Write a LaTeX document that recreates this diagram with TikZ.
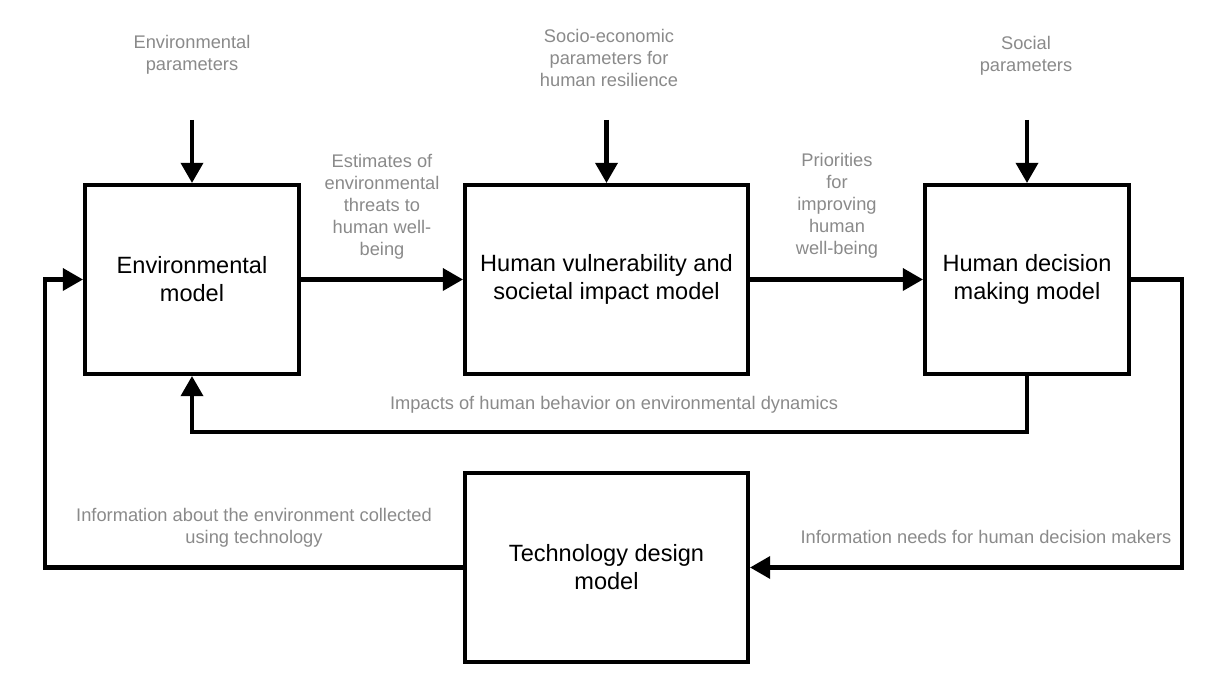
\documentclass[tikz,border=0pt]{standalone}
\usepackage{fontspec}
\setmainfont{Liberation Sans}
\usepackage{tikz}
\usetikzlibrary{arrows.meta, positioning}
\definecolor{lblgray}{HTML}{8A8A8A}

\begin{document}
\begin{tikzpicture}[
  box/.style={draw, line width=2.3pt, minimum height=3.78cm, align=center, font=\fontsize{13.4}{15.9}\selectfont, inner sep=4pt},
  lbl/.style={align=center, text=lblgray, font=\fontsize{10.4}{12.5}\selectfont, inner sep=1pt},
  arr/.style={-{Triangle[length=11.5pt, width=12.5pt]}, line width=2.3pt}
]
\useasboundingbox (0,0) rectangle (24.48,13.48);
\node[box, minimum width=4.28cm] (env)      at (3.84,7.89)  {Environmental\\model};
\node[box, minimum width=5.66cm] (vuln)     at (12.13,7.89) {Human vulnerability and\\societal impact model};
\node[box, minimum width=4.08cm] (decision) at (20.54,7.89) {Human decision\\making model};
\node[box, minimum width=5.66cm] (tech)     at (12.13,2.13) {Technology design\\model};
\node[lbl] (envpar)   at (3.84,12.38)  {Environmental\\parameters};
\node[lbl] (sociopar) at (12.18,12.32) {Socio-economic\\parameters for\\human resilience};
\node[lbl] (socpar)   at (20.52,12.36) {Social\\parameters};
\node[lbl] (threats)  at (7.64,9.34)   {Estimates of\\environmental\\threats to\\human well-\\being};
\node[lbl] (prio)     at (16.74,9.36)  {Priorities\\for\\improving\\human\\well-being};
\node[lbl] (impacts)  at (12.28,5.38)  {Impacts of human behavior on environmental dynamics};
\node[lbl] (infoenv)  at (5.08,2.92)   {Information about the environment collected\\using technology};
\node[lbl] (infoneed) at (19.72,2.74)  {Information needs for human decision makers};
\coordinate (envin)   at (3.84,11.08);
\coordinate (socioin) at (12.13,11.08);
\coordinate (socin)   at (20.54,11.08);
\coordinate (fb)      at (20.54,4.84);
\coordinate (rgt)     at (23.64,7.89);
\coordinate (lft)     at (0.9,2.13);
\draw[arr] (envin) -- (env.north);
\draw[arr] (socioin) -- (vuln.north);
\draw[arr] (socin) -- (decision.north);
\draw[arr] (env) -- (vuln);
\draw[arr] (vuln) -- (decision);
\draw[arr] (decision.south) -- (fb) -| (env.south);
\draw[arr] (decision.east) -- (rgt) |- (tech.east);
\draw[arr] (tech.west) -- (lft) |- (env.west);
\end{tikzpicture}
\end{document}
